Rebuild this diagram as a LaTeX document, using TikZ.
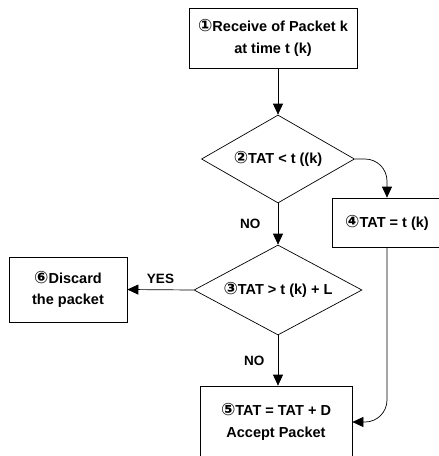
\documentclass[tikz,border=0pt]{standalone}
\usepackage{fontspec}
\setmainfont{Liberation Sans}
\newfontfamily\circfont{DejaVu Sans}
\usetikzlibrary{arrows.meta,shapes.geometric,positioning}
\newcommand{\cnum}[1]{{\circfont\fontsize{17}{21}\selectfont #1}}
\tikzset{
  box/.style={draw, line width=0.7pt, align=center, font=\bfseries\fontsize{14.5}{21.5}\selectfont},
  decision/.style={draw, diamond, aspect=2, inner sep=0pt, line width=0.7pt, font=\bfseries\fontsize{14.5}{17}\selectfont},
  arr/.style={line width=0.7pt, -{Triangle[length=11pt,width=10pt]}},
  lbl/.style={font=\bfseries\fontsize{13.5}{16}\selectfont}
}
\begin{document}
\begin{tikzpicture}[x=1pt,y=-1pt]
\useasboundingbox[fill=white] (0,0) rectangle (439,456);
\node[box, minimum width=168pt, minimum height=60pt] (recv) at (273,38) {\cnum{①}Receive of Packet k\\at time t (k)};
\node[decision, minimum width=153pt, minimum height=88pt] (cmpA) at (278,159) {\cnum{②}TAT < t ((k)};
\node[box, minimum width=110pt, minimum height=49pt] (settat) at (387,222.5) {\cnum{④}TAT = t (k)};
\node[decision, minimum width=168pt, minimum height=90pt] (cmpB) at (278,290) {\cnum{③}TAT > t (k) + L};
\node[box, minimum width=118pt, minimum height=65pt] (discard) at (68,289.5) {\cnum{⑥}Discard\\the packet};
\node[box, minimum width=152pt, minimum height=72pt] (accept) at (276,422) {\cnum{⑤}TAT = TAT + D\\Accept Packet};
% connectors
\draw[arr] (cmpA.north |- recv.south) -- (cmpA.north);
\draw[arr, rounded corners=22pt] (cmpA.east) -| (settat.north);
\draw[arr] (cmpA.south) -- node[lbl, left=14pt] {NO} (cmpB.north);
\draw[arr] (cmpB.west) -- node[lbl, above=2pt] {YES} (discard.east);
\draw[arr] (cmpB.south) -- node[lbl, left=10pt] {NO} (cmpB.south |- accept.north);
\draw[arr, rounded corners=22pt] (settat.south) |- (accept.east);
\end{tikzpicture}
\end{document}
